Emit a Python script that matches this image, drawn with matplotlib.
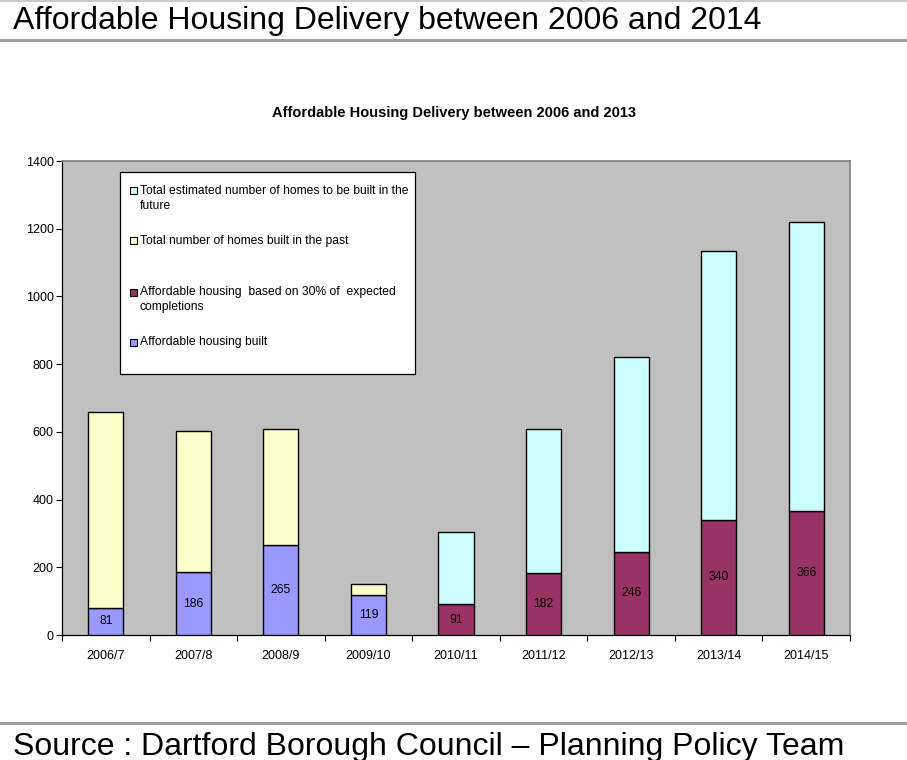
import matplotlib
matplotlib.use("Agg")
import matplotlib.pyplot as plt
from matplotlib import font_manager
from matplotlib.patches import Rectangle
from matplotlib.lines import Line2D
from matplotlib.transforms import Affine2D
import numpy as np

# ---- data ----
years = ["2006/7", "2007/8", "2008/9", "2009/10", "2010/11",
         "2011/12", "2012/13", "2013/14", "2014/15"]
affordable_built = [81, 186, 265, 119]
homes_built_total = [659, 603, 609, 152]
affordable_expected = [91, 182, 246, 340, 366]
homes_future_total = [303, 607, 820, 1133, 1220]
y_ticks = [0, 200, 400, 600, 800, 1000, 1200, 1400]

legend_labels = [
    "Total estimated number of homes to be built in the\nfuture",
    "Total number of homes built in the past",
    "Affordable housing  based on 30% of  expected\ncompletions",
    "Affordable housing built",
]

c_blue = "#9999FF"
c_maroon = "#993366"
c_yellow = "#FFFFCC"
c_cyan = "#CCFFFF"
c_plot_bg = "#C0C0C0"

names = {f.name for f in font_manager.fontManager.ttflist}
base_font = "Liberation Sans" if "Liberation Sans" in names else "DejaVu Sans"
plt.rcParams["font.family"] = [base_font, "DejaVu Sans"]

W, H = 907, 760
fig = plt.figure(figsize=(W / 100, H / 100), dpi=100)
fig.patch.set_facecolor("white")

# pixel coordinates with origin at top-left
pix = Affine2D().scale(1 / W, -1 / H).translate(0, 1) + fig.transFigure


def box(x0, y0, x1, y1):
    return [x0 / W, 1 - y1 / H, (x1 - x0) / W, (y1 - y0) / H]


# ---- page header / footer ----
fig.add_artist(Line2D([0, W], [0.8, 0.8], transform=pix, color="#BEBEBE", lw=1.6 * 0.72))
fig.add_artist(Line2D([0, W], [39.5, 39.5], transform=pix, color="#A0A0A0", lw=3 * 0.72))
fig.add_artist(Line2D([0, W], [722.5, 722.5], transform=pix, color="#A0A0A0", lw=3 * 0.72))

head_size = 23
fig.text(13, 28.5, "Affordable Housing Delivery between 2006 and 2014", transform=pix,
         fontsize=head_size, ha="left", va="baseline", color="black")
fig.text(13, 754.5, "Source : Dartford Borough Council \u2013 Planning Policy Team", transform=pix,
         fontsize=head_size, ha="left", va="baseline", color="black")

# ---- chart ----
fig.text(453.5, 113, "Affordable Housing Delivery between 2006 and 2013", transform=pix,
         fontsize=10.5, fontweight="bold", ha="center", va="center")

ax = fig.add_axes(box(62, 161, 850, 635))
ax.set_facecolor(c_plot_bg)

x = np.arange(len(years))
x_past = x[:4]
x_future = x[4:]
bw = 0.4
ek = dict(edgecolor="black", linewidth=1.0)

b1 = ax.bar(x_past, affordable_built, bw, color=c_blue, **ek, zorder=3)
ax.bar(x_past, np.subtract(homes_built_total, affordable_built), bw,
       bottom=affordable_built, color=c_yellow, **ek, zorder=3)
b2 = ax.bar(x_future, affordable_expected, bw, color=c_maroon, **ek, zorder=3)
ax.bar(x_future, np.subtract(homes_future_total, affordable_expected), bw,
       bottom=affordable_expected, color=c_cyan, **ek, zorder=3)

for cont in (b1, b2):
    ax.bar_label(cont, label_type="center", fontsize=8.8, color="black", zorder=4)

ax.set_xlim(-0.5, len(years) - 0.5)
ax.set_ylim(0, 1400)
ax.set_yticks(y_ticks)
ax.set_yticklabels([str(v) for v in y_ticks], fontsize=9)
ax.set_xticks(x)
ax.set_xticklabels(years, fontsize=9)
ax.set_xticks(np.arange(len(years) + 1) - 0.5, minor=True)
ax.tick_params(axis="x", which="major", length=0, pad=11)
ax.tick_params(axis="x", which="minor", length=4, width=0.8, direction="out")
ax.tick_params(axis="y", length=4, width=0.8, direction="out", pad=2)

for side in ("top", "right"):
    ax.spines[side].set_color("#808080")
    ax.spines[side].set_linewidth(1.2)
for side in ("left", "bottom"):
    ax.spines[side].set_color("black")
    ax.spines[side].set_linewidth(0.9)

# ---- legend box ----
fig.add_artist(Rectangle((120, 172), 295, 202, transform=pix, facecolor="white",
                         edgecolor="black", linewidth=0.9, zorder=5))
legend_colors = [c_cyan, c_yellow, c_maroon, c_blue]
legend_rows = [190.7, 240.7, 292.3, 342.3]
for lab, col, yy in zip(legend_labels, legend_colors, legend_rows):
    fig.add_artist(Rectangle((130, yy - 3.5), 7, 7, transform=pix, facecolor=col,
                             edgecolor="black", linewidth=0.8, zorder=6))
    for i, line in enumerate(lab.split("\n")):
        xx = 140.5 if i == 0 else 139.5
        fig.text(xx, yy + i * 15, line, transform=pix, fontsize=8.7,
                 ha="left", va="center", zorder=6)

fig.savefig("out.png", dpi=100)
